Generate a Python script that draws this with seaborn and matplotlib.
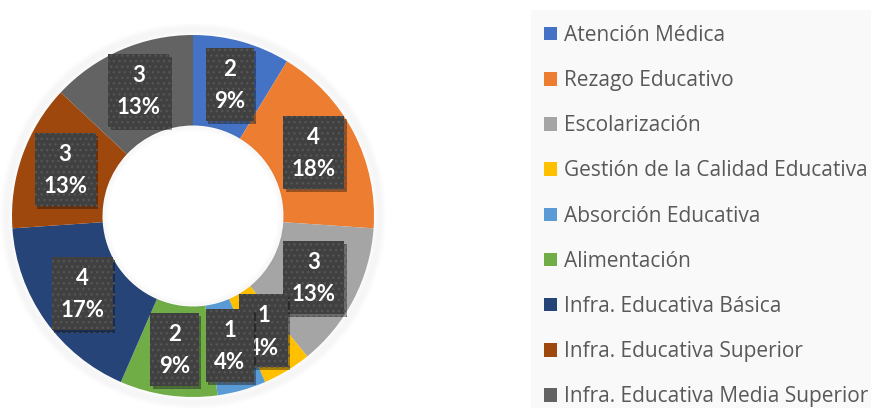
import matplotlib
matplotlib.use('Agg')
import matplotlib.pyplot as plt
import matplotlib.patheffects as pe
from matplotlib.patches import Rectangle, Circle
from matplotlib.transforms import IdentityTransform
import seaborn as sns
import numpy as np

# datos
categorias = ['Atención Médica', 'Rezago Educativo', 'Escolarización',
              'Gestión de la Calidad Educativa', 'Absorción Educativa',
              'Alimentación', 'Infra. Educativa Básica',
              'Infra. Educativa Superior', 'Infra. Educativa Media Superior']
valores = [2, 4, 3, 1, 1, 2, 4, 3, 3]
porcentajes = ['9%', '18%', '13%', '4%', '4%', '9%', '17%', '13%', '13%']
colores = ['#4472C4', '#ED7D31', '#A5A5A5', '#FFC000', '#5B9BD5',
           '#70AD47', '#264478', '#9E480E', '#636363']

sns.set_theme(style='white')
plt.rcParams['font.family'] = ['Lato', 'DejaVu Sans']
plt.rcParams['hatch.linewidth'] = 1.0

W, H = 871, 408
fig = plt.figure(figsize=(W / 100, H / 100), dpi=100)

# fondo de la leyenda
fig.patches.append(Rectangle((531 / W, 0), 1 - 531 / W, 1 - 10 / H,
                             transform=fig.transFigure, facecolor='#F9F9F9',
                             edgecolor='none', zorder=0))

cx, cy, r = 193, 216, 181
ax = fig.add_axes([(cx - r) / W, (H - cy - r) / H, 2 * r / W, 2 * r / H])

# sombra suave del anillo
for k in range(5):
    ax.add_patch(Circle((0, 0), 1.0 + 0.01 * (k + 1), facecolor='none',
                        edgecolor='#000000', alpha=0.012, linewidth=4,
                        clip_on=False))

paleta = sns.color_palette(colores)
wedges, _ = ax.pie(valores, colors=paleta, startangle=90, counterclock=False,
                   radius=1, wedgeprops=dict(width=0.5, linewidth=0))
for k in range(3):
    ax.add_patch(Circle((0, 0), 0.5 - 0.01 * k, facecolor='none',
                        edgecolor='#000000', alpha=0.012, linewidth=3))
ax.set_xlim(-1, 1)
ax.set_ylim(-1, 1)
ax.set_aspect('equal')
ax.axis('off')

# etiquetas de datos
textos = []
for i, (w, v, p) in enumerate(zip(wedges, valores, porcentajes)):
    ang = np.deg2rad((w.theta1 + w.theta2) / 2)
    x, y = 0.75 * np.cos(ang), 0.75 * np.sin(ang)
    t = ax.text(x, y, f'{v}\n{p}', ha='center', va='center', color='white',
                fontsize=16, fontweight='bold', linespacing=1.65,
                zorder=6 + 2 * i)
    textos.append(t)

# cajas de las etiquetas (relleno oscuro con puntos y sombra)
renderer = fig.canvas.get_renderer()
for i, t in enumerate(textos):
    bb = t.get_window_extent(renderer)
    bw = bb.width + 17
    bh = 73
    xc, yc = (bb.x0 + bb.x1) / 2, (bb.y0 + bb.y1) / 2 + 1
    caja = Rectangle((xc - bw / 2, yc - bh / 2), bw, bh,
                     transform=IdentityTransform(), facecolor='#404040',
                     edgecolor='#555555', linewidth=0, hatch='...',
                     zorder=5 + 2 * i)
    caja.set_path_effects([
        pe.SimplePatchShadow(offset=(2, -2), shadow_rgbFace='black', alpha=0.35),
        pe.Normal()])
    ax.add_artist(caja)

leg = fig.legend(wedges, categorias, loc='upper left',
                 bbox_to_anchor=(544 / W, 1 - 25 / H), frameon=False,
                 prop={'family': ['Open Sans', 'DejaVu Sans'], 'size': 15},
                 labelcolor='#595959', handlelength=0.63,
                 handleheight=0.63, handletextpad=0.34, labelspacing=1.16,
                 borderpad=0, borderaxespad=0)

fig.savefig('out.png', dpi=100)
